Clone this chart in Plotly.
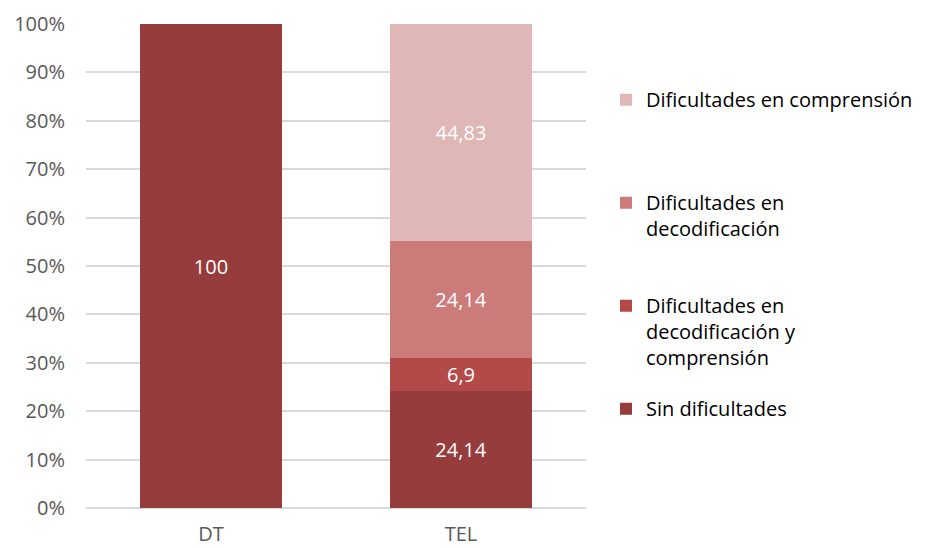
import plotly.graph_objects as go

categories = ["DT", "TEL"]
series_names = [
    "Sin dificultades",
    "Dificultades en<br>decodificación y<br>comprensión",
    "Dificultades en<br>decodificación",
    "Dificultades en comprensión",
]
sin_dif = [100, 24.14]
dec_y_comp = [0, 6.9]
dec = [0, 24.14]
comp = [0, 44.83]
colors = ["#963C3C", "#B34A48", "#CB7B7A", "#DFB7B6"]
y_ticks = list(range(0, 101, 10))

series_values = [sin_dif, dec_y_comp, dec, comp]
pad_lines = 3

fig = go.Figure()
for i, (name, vals, col) in enumerate(zip(series_names, series_values, colors)):
    labels = [f"{v:g}".replace(".", ",") if v else "" for v in vals]
    n_lines = name.count("<br>") + 1
    legend_name = name + "<br> " * (pad_lines - n_lines)
    fig.add_trace(go.Bar(
        x=categories, y=vals, name=legend_name, marker_color=col,
        marker_line_width=0,
        text=labels, textposition="inside", insidetextanchor="middle",
        textfont=dict(color="white", size=20, family="Open Sans"),
        legendgroup=str(i), legendrank=100 - i,
        hoverinfo="skip",
    ))

fig.update_layout(
    barmode="stack",
    bargap=0.43,
    width=927, height=548,
    margin=dict(l=78, r=349, t=16, b=48),
    plot_bgcolor="white", paper_bgcolor="white",
    font=dict(family="Open Sans", size=20, color="#595959"),
    showlegend=True,
    legend=dict(
        x=1.040, xanchor="left", y=0.884, yanchor="top",
        traceorder="grouped", tracegroupgap=22,
        valign="top",
        font=dict(size=20, color="#000000", family="Open Sans"),
        itemwidth=30,
    ),
    uniformtext=dict(mode=False),
)
fig.update_yaxes(
    range=[0, 100], tickvals=y_ticks, ticktext=[f"{t}%" for t in y_ticks],
    showgrid=True, gridcolor="#D9D9D9", gridwidth=1.5,
    zeroline=True, zerolinecolor="#D9D9D9", zerolinewidth=1.5,
    showline=False, ticks="", tickfont=dict(size=20, color="#595959"),
    automargin=False, ticklabelstandoff=20,
)
fig.update_xaxes(
    showgrid=False, showline=False, ticks="",
    tickfont=dict(size=20, color="#595959"),
    automargin=False, ticklabelstandoff=12,
)

fig.write_html("out.html")
